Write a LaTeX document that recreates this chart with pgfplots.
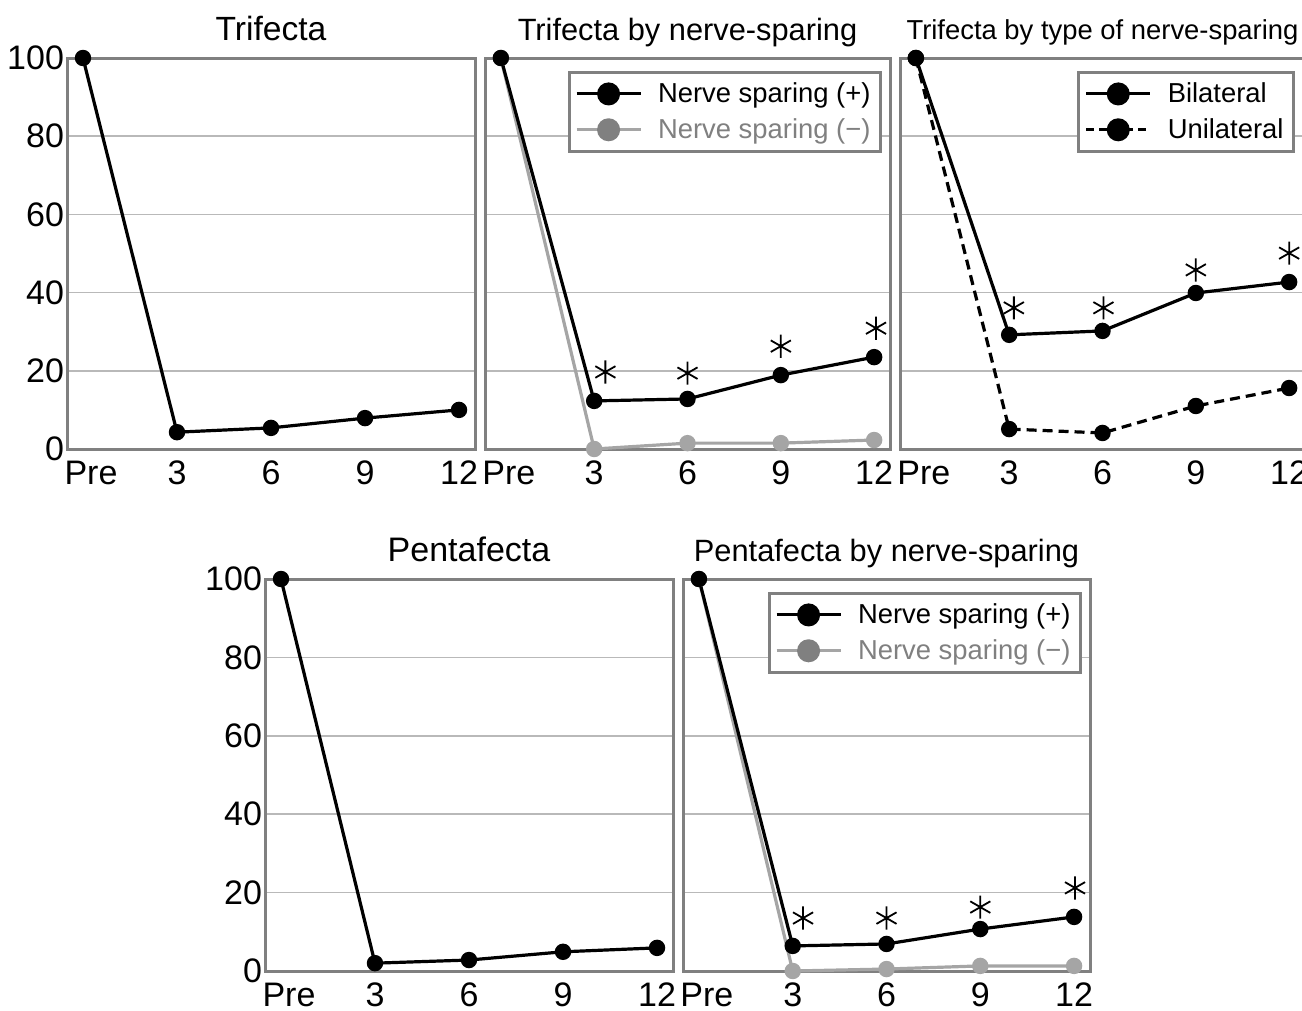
\documentclass[border=0pt]{standalone}
\usepackage{pgfplots}
\pgfplotsset{compat=1.18}
\usepackage{fontspec}
\setmainfont{Liberation Sans}

\definecolor{framegray}{RGB}{128,128,128}
\definecolor{gridgray}{RGB}{185,185,185}
\definecolor{nsminus}{RGB}{165,165,165}
\definecolor{legminus}{RGB}{128,128,128}

\pgfplotsset{
  panel/.style={
    scale only axis,
    height=195.5pt,
    xmin=-0.17, xmax=4.17, ymin=0, ymax=100,
    xtick={0,1,2,3,4}, xticklabels={\hspace*{8pt}Pre,3,6,9,12},
    ytick={0,20,40,60,80,100},
    ymajorgrids,
    grid style={gridgray, line width=0.75pt},
    axis line style={framegray, line width=1.5pt},
    major tick length=0pt,
    tick label style={font=\fontsize{17}{20}\selectfont},
    xticklabel style={yshift=-2.5pt},
    yticklabel style={xshift=2pt},
    /pgf/number format/assume math mode=true,
    clip=false,
    title style={at={(0.5,1)}, anchor=base, yshift=3pt},
    legend style={draw=framegray, line width=1.5pt, at={(1,1)}, anchor=north east,
      xshift=-4pt, yshift=-6.5pt, inner xsep=3pt, inner ysep=3pt,
      row sep=2.5pt, column sep=6pt,
      font=\fontsize{13.7}{16}\selectfont, cells={anchor=west}},
    legend image code/.code={
      \draw[mark repeat=2, mark phase=2, #1] plot coordinates {(0pt,0pt) (16pt,0pt) (32pt,0pt)};
    },
  },
  noy/.style={yticklabels={}},
  dat/.style={black, line width=1.6pt, mark=*, mark size=3.3pt},
  datm/.style={nsminus, line width=1.6pt, mark=*, mark size=3.3pt},
  star/.style={black, only marks, mark=asterisk, mark size=5.8pt, mark options={line width=0.9pt}},
}

\begin{document}
\begin{tikzpicture}
\path[use as bounding box] (0,0) rectangle (651pt,-505.5pt);

% Trifecta
\begin{axis}[panel, width=204pt, at={(33.5pt,-224.5pt)}, anchor=south west,
  title={\fontsize{16.8}{19}\selectfont Trifecta}]
\addplot[dat] coordinates {(0,100) (1,4.3) (2,5.4) (3,7.9) (4,10.0)};
\end{axis}

% Trifecta by nerve-sparing
\begin{axis}[panel, noy, width=202.5pt, at={(242.5pt,-224.5pt)}, anchor=south west,
  title={\fontsize{15.4}{18}\selectfont Trifecta by nerve-sparing}]
\addlegendimage{black, line width=1.5pt, mark=*, mark size=5pt}
\addlegendentry{Nerve sparing (+)}
\addlegendimage{nsminus, line width=1.5pt, mark=*, mark size=5pt, mark options={fill=legminus, draw=legminus}}
\addlegendentry{\textcolor{legminus}{Nerve sparing (−)}}
\addplot[datm, forget plot] coordinates {(0,100) (1,0) (2,1.5) (3,1.5) (4,2.3)};
\addplot[dat, forget plot] coordinates {(0,100) (1,12.3) (2,12.8) (3,18.9) (4,23.5)};
\addplot[star, forget plot] coordinates {(1.12,19.7) (2.0,19.4) (3.0,26.3) (4.02,30.9)};
\end{axis}

% Trifecta by type of nerve-sparing
\begin{axis}[panel, noy, width=202.5pt, at={(450pt,-224.5pt)}, anchor=south west,
  title={\fontsize{13.7}{16}\selectfont Trifecta by type of nerve-sparing},
  title style={yshift=0.5pt},
  legend style={xshift=-1pt}]
\addlegendimage{black, line width=1.5pt, mark=*, mark size=5pt}
\addlegendentry{Bilateral}
\addlegendimage{black, line width=1.5pt, dash pattern=on 4pt off 2.5pt, mark=*, mark size=5pt, mark options={solid}}
\addlegendentry{Unilateral}
\addplot[dat, forget plot] coordinates {(0,100) (1,29.2) (2,30.2) (3,39.9) (4,42.7)};
\addplot[dat, dash pattern=on 5pt off 3pt, mark options={solid}, forget plot] coordinates {(0,100) (1,5.1) (2,4.1) (3,11.0) (4,15.6)};
\addplot[star, forget plot] coordinates {(1.05,36.1) (2.01,36.1) (3.0,45.8) (4.0,50.1)};
\end{axis}

% Pentafecta
\begin{axis}[panel, height=196pt, width=204pt, at={(132.5pt,-485.5pt)}, anchor=south west,
  title={\fontsize{17}{20}\selectfont Pentafecta}]
\addplot[dat] coordinates {(0,100) (1,2.0) (2,2.8) (3,4.9) (4,5.9)};
\end{axis}

% Pentafecta by nerve-sparing
\begin{axis}[panel, noy, height=196pt, width=203.5pt, at={(341.5pt,-485.5pt)}, anchor=south west,
  title={\fontsize{15.4}{18}\selectfont Pentafecta by nerve-sparing}]
\addlegendimage{black, line width=1.5pt, mark=*, mark size=5pt}
\addlegendentry{Nerve sparing (+)}
\addlegendimage{nsminus, line width=1.5pt, mark=*, mark size=5pt, mark options={fill=legminus, draw=legminus}}
\addlegendentry{\textcolor{legminus}{Nerve sparing (−)}}
\addplot[datm, forget plot] coordinates {(0,100) (1,0) (2,0.5) (3,1.3) (4,1.3)};
\addplot[dat, forget plot] coordinates {(0,100) (1,6.4) (2,6.9) (3,10.7) (4,13.8)};
\addplot[star, forget plot] coordinates {(1.11,13.5) (2.0,13.5) (3.0,16.3) (4.01,21.2)};
\end{axis}
\end{tikzpicture}
\end{document}
